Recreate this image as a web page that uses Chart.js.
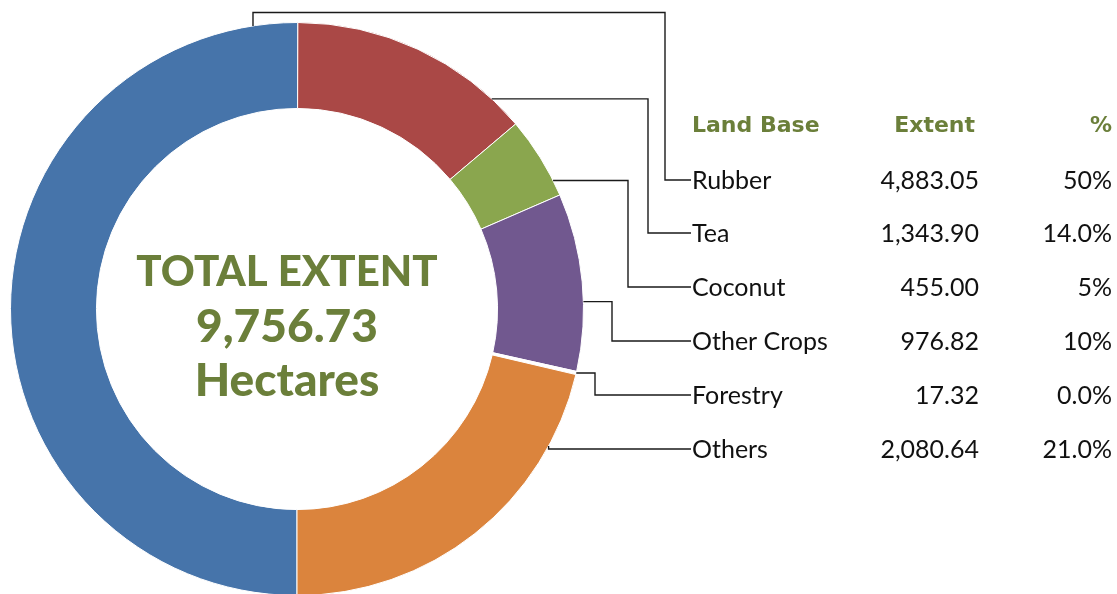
<!DOCTYPE html>
<html>
<head>
<meta charset="utf-8">
<title>Land Base Extent</title>
<script src="https://cdn.jsdelivr.net/npm/chart.js@4.4.1/dist/chart.umd.min.js"></script>
<style>
  html, body { margin: 0; padding: 0; background: #fff; overflow: hidden; }
  #wrap { position: relative; width: 1117px; height: 600px; }
</style>
</head>
<body>
<div id="wrap"><canvas id="landChart"></canvas></div>
<script>
const landBase = ["Rubber", "Tea", "Coconut", "Other Crops", "Forestry", "Others"];
const extentHa = [4883.05, 1343.90, 455.00, 976.82, 17.32, 2080.64];
const percentText = ["50%", "14.0%", "5%", "10%", "0.0%", "21.0%"];
const sliceColors = ["#4674aa", "#aa4846", "#8aa64e", "#71588f", "#ffffff", "#db843d"];

const FONT = '"Lato", "DejaVu Sans", sans-serif';
const HEAD_FONT = '"DejaVu Sans", sans-serif';
const GREEN = "#6b7f3a";

// leader line layout: where on each slice the line starts, where it bends, row y
const anchorAt = [0.95, 0.86, 0.81, 0.61, 0.5, 0.2];
const elbowX = [665, 648, 628, 612, 595, null];
const rowY = [180, 233, 287, 341, 395, 449];
const labelX = 692;
const extentRight = 979;
const pctRight = 1112;

const total = extentHa.reduce((a, b) => a + b, 0);
const fmt = (v) =>
  v.toLocaleString("en-US", { minimumFractionDigits: 2, maximumFractionDigits: 2 });

const tablePlugin = {
  id: "landTable",
  afterDraw(chart) {
    const ctx = chart.ctx;
    const arcs = chart.getDatasetMeta(0).data;
    ctx.save();

    // leader lines from slices to the table rows
    ctx.strokeStyle = "#1a1a1a";
    ctx.lineWidth = 1.4;
    arcs.forEach((arc, i) => {
      const p = arc.getProps(["x", "y", "startAngle", "endAngle", "outerRadius"], true);
      const a = p.startAngle + anchorAt[i] * (p.endAngle - p.startAngle);
      const ax = p.x + Math.cos(a) * p.outerRadius;
      const ay = p.y + Math.sin(a) * p.outerRadius;
      ctx.beginPath();
      ctx.moveTo(ax, ay);
      if (i === 0) {
        // rubber: up over the top of the ring first
        ctx.lineTo(ax, 12.5);
        ctx.lineTo(elbowX[i], 12.5);
      } else if (elbowX[i] !== null) {
        ctx.lineTo(elbowX[i], ay);
      }
      if (elbowX[i] !== null) ctx.lineTo(elbowX[i], rowY[i]);
      else ctx.lineTo(ax, rowY[i]);
      ctx.lineTo(labelX - 1, rowY[i]);
      ctx.stroke();
    });

    // table header
    ctx.textBaseline = "middle";
    ctx.fillStyle = GREEN;
    ctx.font = "bold 22px " + HEAD_FONT;
    ctx.textAlign = "left";
    ctx.fillText("Land Base", labelX, 126);
    ctx.textAlign = "right";
    ctx.fillText("Extent", 975, 126);
    ctx.fillText("%", pctRight, 126);

    // table rows
    ctx.fillStyle = "#111";
    ctx.font = "25px " + FONT;
    landBase.forEach((name, i) => {
      const y = rowY[i] + 1;
      ctx.textAlign = "left";
      ctx.fillText(name, labelX, y);
      ctx.textAlign = "right";
      ctx.fillText(fmt(extentHa[i]), extentRight, y);
      ctx.fillText(percentText[i], pctRight, y);
    });

    // total in the centre of the ring
    const cx = arcs[0].x - 10;
    ctx.fillStyle = GREEN;
    ctx.textAlign = "center";
    ctx.font = "900 42px " + FONT;
    ctx.fillText("TOTAL EXTENT", cx, 272);
    ctx.font = "900 46px " + FONT;
    ctx.fillText(fmt(total), cx, 327);
    ctx.fillText("Hectares", cx, 381);
    ctx.restore();
  },
};

new Chart(document.getElementById("landChart"), {
  type: "doughnut",
  data: {
    labels: landBase,
    datasets: [
      {
        data: extentHa,
        backgroundColor: sliceColors,
        borderColor: "#ffffff",
        borderWidth: 1,
      },
    ],
  },
  options: {
    responsive: true,
    maintainAspectRatio: false,
    animation: false,
    events: [],
    rotation: 180,
    cutout: "70%",
    layout: { padding: { left: 10, top: 22, right: 533, bottom: 4 } },
    plugins: {
      legend: { display: false },
      tooltip: { enabled: false },
    },
  },
  plugins: [tablePlugin],
});
</script>
</body>
</html>
